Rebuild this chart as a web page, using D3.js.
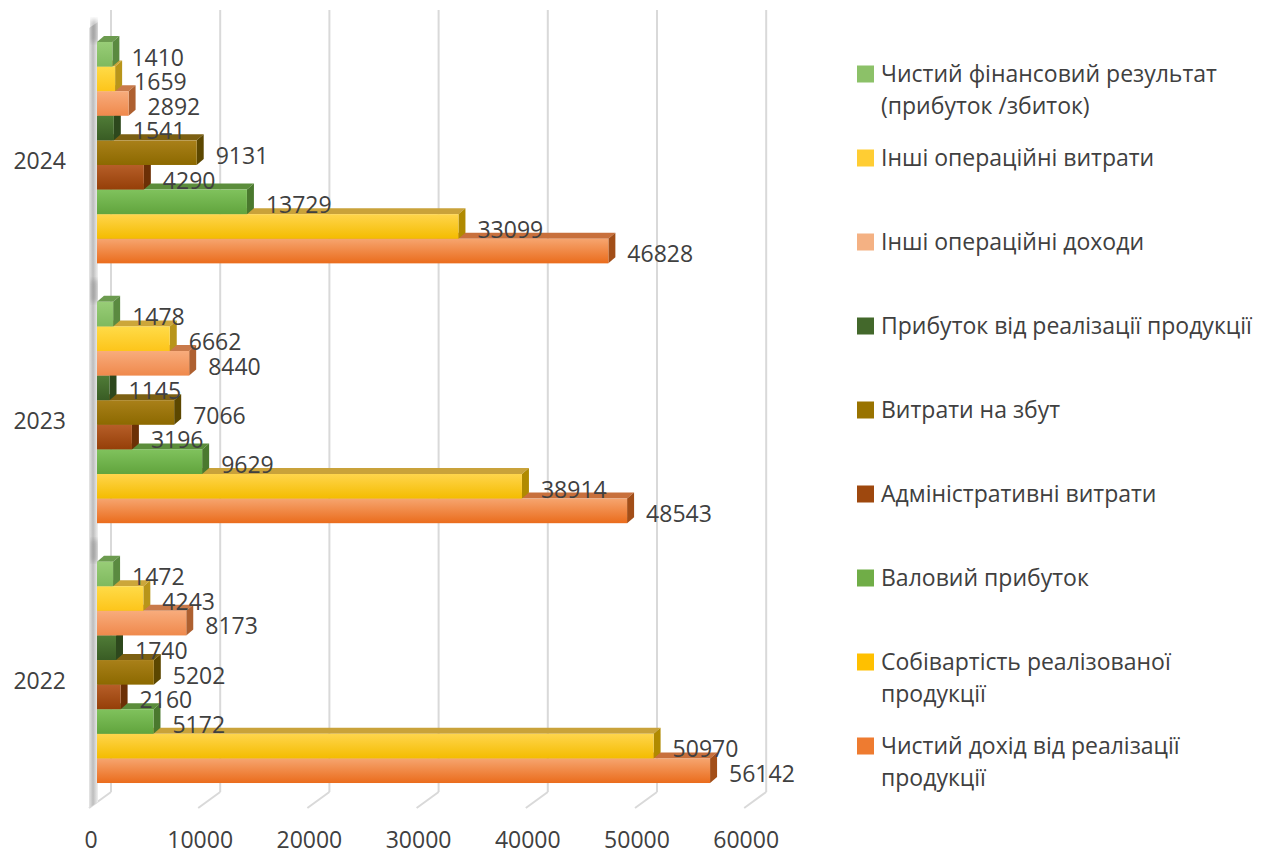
<!DOCTYPE html>
<html lang="uk">
<head>
<meta charset="utf-8">
<title>Фінансові результати 2022–2024</title>
<script src="https://cdn.jsdelivr.net/npm/d3@7"></script>
<style>
  html, body { margin: 0; padding: 0; background: #ffffff; }
  svg { display: block; font-family: "Open Sans", "Noto Sans", sans-serif; }
</style>
</head>
<body>
<svg id="chart" width="1285" height="858"></svg>
<script>
// Years shown as bar groups (top to bottom on the chart: 2024, 2023, 2022)
const categories = ["2022", "2023", "2024"];

// Indicators, in series order (first one is the bottom bar of each group)
const seriesNames = [
  "Чистий дохід від реалізації\nпродукції",
  "Собівартість реалізованої\nпродукції",
  "Валовий прибуток",
  "Адміністративні витрати",
  "Витрати на збут",
  "Прибуток від реалізації продукції",
  "Інші операційні доходи",
  "Інші операційні витрати",
  "Чистий фінансовий результат\n(прибуток /збиток)"
];

// Values per year, same order as seriesNames
const values2022 = [56142, 50970, 5172, 2160, 5202, 1740, 8173, 4243, 1472];
const values2023 = [48543, 38914, 9629, 3196, 7066, 1145, 8440, 6662, 1478];
const values2024 = [46828, 33099, 13729, 4290, 9131, 1541, 2892, 1659, 1410];

const xTicks = [0, 10000, 20000, 30000, 40000, 50000, 60000];

// Face colours for each series: front gradient (light, dark), top face, side face
const palette = [
  { light: "#F6A56F", dark: "#EA6C1C", top: "#C8703C", side: "#A24E18", key: "#EE7B30" },
  { light: "#FFD54C", dark: "#F4BC00", top: "#C9A23A", side: "#B08A00", key: "#FFC000" },
  { light: "#80C25D", dark: "#61A43D", top: "#5B8D3B", side: "#4A792E", key: "#70AD47" },
  { light: "#B65E28", dark: "#953F08", top: "#8A4A22", side: "#6C3006", key: "#9E480E" },
  { light: "#A98019", dark: "#8C6900", top: "#7C6012", side: "#5C4700", key: "#997300" },
  { light: "#507C37", dark: "#395C24", top: "#3E5C2B", side: "#2D481D", key: "#43682B" },
  { light: "#F8AC7C", dark: "#EF894C", top: "#C97A4A", side: "#AE6030", key: "#F4B183" },
  { light: "#FFDB48", dark: "#FDC51A", top: "#CCA63A", side: "#B8951A", key: "#FFCD33" },
  { light: "#98CD77", dark: "#7FB95E", top: "#6C9B4F", side: "#5A8A40", key: "#8CC168" }
];

const byYear = { "2022": values2022, "2023": values2023, "2024": values2024 };

const svg = d3.select("#chart");
const textColor = "#404040";
const fontSize = 23;

// Depth of bars and of the back wall (projection offsets)
const barDX = 7, barDY = -6;
const wallDX = 14;
const floorFrontDX = -8;
const gridTop = 10, floorBackY = 792, floorFrontY = 808;

const x = d3.scaleLinear().domain([0, 60000]).range([97, 97 + 655.2]);

const yGroup = d3.scaleBand()
  .domain(["2024", "2023", "2022"])
  .range([22.75, 802.25])
  .paddingInner(0.148)
  .paddingOuter(0.074);

const ySeries = d3.scaleBand()
  .domain(d3.range(seriesNames.length).reverse())
  .range([0, yGroup.bandwidth()]);

// Gradients for bar fronts
const defs = svg.append("defs");
palette.forEach((p, i) => {
  const g = defs.append("linearGradient")
    .attr("id", "front" + i)
    .attr("x1", 0).attr("y1", 0).attr("x2", 0).attr("y2", 1);
  g.append("stop").attr("offset", "0%").attr("stop-color", p.light);
  g.append("stop").attr("offset", "100%").attr("stop-color", p.dark);
});
const wallGrad = defs.append("linearGradient")
  .attr("id", "wallGrad").attr("x1", 0).attr("y1", 0).attr("x2", 1).attr("y2", 0);
wallGrad.append("stop").attr("offset", "0%").attr("stop-color", "#e6e6e6");
wallGrad.append("stop").attr("offset", "45%").attr("stop-color", "#bdbdbd");
wallGrad.append("stop").attr("offset", "100%").attr("stop-color", "#f0f0f0");
defs.append("filter").attr("id", "soft")
  .append("feGaussianBlur").attr("stdDeviation", 2.5);

// Back-wall gridlines with their floor segments
const grid = svg.append("g").attr("class", "grid");
xTicks.forEach(v => {
  const bx = x(v) + wallDX;
  grid.append("line")
    .attr("x1", bx).attr("y1", gridTop).attr("x2", bx).attr("y2", floorBackY)
    .attr("stroke", "#d9d9d9").attr("stroke-width", 2);
  grid.append("line")
    .attr("x1", bx).attr("y1", floorBackY)
    .attr("x2", x(v) + floorFrontDX).attr("y2", floorFrontY)
    .attr("stroke", "#d9d9d9").attr("stroke-width", 2);
});

// Left side wall
const wx0 = x(0) + floorFrontDX;
svg.append("path")
  .attr("d", `M${wx0},28 L${wx0 + 9},22 L${wx0 + 9},802 L${wx0},808 Z`)
  .attr("fill", "url(#wallGrad)");
// shading where the bar groups meet the wall
categories.forEach(c => {
  const top = yGroup(c);
  svg.append("rect")
    .attr("x", wx0 + 2).attr("y", top - 22)
    .attr("width", 6).attr("height", 22)
    .attr("fill", "#8a8a8a").attr("opacity", 0.6)
    .attr("filter", "url(#soft)");
});

// Bars: bottom series first so upper bars cover the top faces below them
const bars = svg.append("g").attr("class", "bars");
categories.forEach(cat => {
  const vals = byYear[cat];
  vals.forEach((v, i) => {
    const p = palette[i];
    const y0 = yGroup(cat) + ySeries(i);
    const h = ySeries.bandwidth();
    const x0 = x(0), x1 = x(v);
    const g = bars.append("g");
    // top face
    g.append("path")
      .attr("d", `M${x0},${y0} L${x0 + barDX},${y0 + barDY} L${x1 + barDX},${y0 + barDY} L${x1},${y0} Z`)
      .attr("fill", p.top);
    // side face
    g.append("path")
      .attr("d", `M${x1},${y0} L${x1 + barDX},${y0 + barDY} L${x1 + barDX},${y0 + h + barDY} L${x1},${y0 + h} Z`)
      .attr("fill", p.side);
    // front face
    g.append("rect")
      .attr("x", x0).attr("y", y0)
      .attr("width", x1 - x0).attr("height", h)
      .attr("fill", `url(#front${i})`);
  });
});

// Value labels
const labels = svg.append("g").attr("class", "labels")
  .attr("font-size", fontSize).attr("fill", textColor);
categories.forEach(cat => {
  byYear[cat].forEach((v, i) => {
    const y0 = yGroup(cat) + ySeries(i);
    labels.append("text")
      .attr("x", x(v) + 19)
      .attr("y", y0 + ySeries.bandwidth() / 2 + 3)
      .attr("dy", "0.36em")
      .text(v);
  });
});

// Category axis labels
svg.append("g").attr("font-size", fontSize).attr("fill", textColor)
  .selectAll("text").data(categories).join("text")
  .attr("x", 66)
  .attr("y", d => yGroup(d) + yGroup.bandwidth() / 2 + 8)
  .attr("dy", "0.36em")
  .attr("text-anchor", "end")
  .text(d => d);

// Value axis labels
svg.append("g").attr("font-size", fontSize).attr("fill", textColor)
  .selectAll("text").data(xTicks).join("text")
  .attr("x", d => x(d) - 6)
  .attr("y", 840)
  .attr("dy", "0.36em")
  .attr("text-anchor", "middle")
  .text(d => d);

// Legend (last series on top)
const legend = svg.append("g").attr("font-size", fontSize).attr("fill", textColor);
const legendOrder = d3.range(seriesNames.length).reverse();
legendOrder.forEach((si, k) => {
  const cy = 74 + k * 84;
  legend.append("rect")
    .attr("x", 857).attr("y", cy - 8.5)
    .attr("width", 17).attr("height", 17)
    .attr("fill", palette[si].key);
  const lines = seriesNames[si].split("\n");
  lines.forEach((ln, j) => {
    legend.append("text")
      .attr("x", 881).attr("y", cy + j * 32)
      .attr("dy", "0.36em")
      .text(ln);
  });
});
</script>
</body>
</html>
